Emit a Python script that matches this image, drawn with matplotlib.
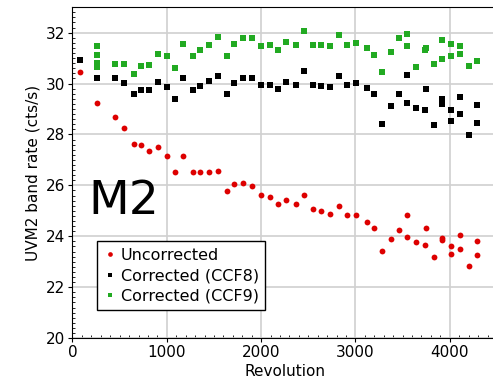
import matplotlib.pyplot as plt
from matplotlib.ticker import MultipleLocator

# Uncorrected rates (red)
rev_unc = [80, 256, 447, 550, 649, 726, 811, 910, 1002, 1090, 1172, 1278, 1352, 1448,
           1540, 1635, 1716, 1811, 1907, 2002, 2090, 2183, 2264, 2370, 2455, 2547, 2635,
           2731, 2826, 2914, 3003, 3120, 3194, 3278, 3374, 3466, 3547, 3547, 3643, 3738,
           3745, 3830, 3915, 3920, 4014, 4014, 4106, 4106, 4208, 4286, 4286]
rate_unc = [30.47, 29.25, 28.68, 28.24, 27.62, 27.58, 27.36, 27.51, 27.15, 26.51, 27.15,
            26.51, 26.54, 26.54, 26.57, 25.79, 26.05, 26.09, 25.98, 25.61, 25.54, 25.27,
            25.43, 25.26, 25.61, 25.07, 24.99, 24.88, 25.18, 24.82, 24.82, 24.58, 24.32,
            23.41, 23.89, 24.26, 24.84, 23.96, 23.78, 23.67, 24.32, 23.19, 23.93, 23.87,
            23.63, 23.29, 24.04, 23.48, 22.85, 23.82, 23.25]

# Corrected with CCF8 (black)
rev_ccf8 = rev_unc
rate_ccf8 = [30.94, 30.23, 30.20, 30.01, 29.57, 29.75, 29.73, 30.07, 29.86, 29.39, 30.23,
             29.73, 29.90, 30.09, 30.30, 29.57, 30.01, 30.23, 30.20, 29.93, 29.93, 29.79,
             30.05, 29.93, 30.48, 29.93, 29.90, 29.86, 30.30, 29.93, 30.01, 29.82, 29.57,
             28.43, 29.13, 29.57, 30.35, 29.25, 29.05, 28.98, 29.79, 28.39, 29.38, 29.19,
             28.95, 28.53, 29.47, 28.79, 27.98, 29.17, 28.45]

# Corrected with CCF9 (green)
rev_ccf9 = [256, 256, 256, 256, 447, 550, 649, 726, 811, 910, 1002, 1090, 1172, 1278,
            1352, 1448, 1540, 1635, 1716, 1811, 1907, 2002, 2090, 2183, 2264, 2370, 2455,
            2547, 2635, 2731, 2826, 2914, 3003, 3120, 3194, 3278, 3374, 3466, 3547, 3547,
            3643, 3738, 3745, 3830, 3915, 3920, 4014, 4014, 4106, 4106, 4208, 4286]
rate_ccf9 = [31.48, 31.12, 30.80, 30.65, 30.75, 30.75, 30.38, 30.68, 30.71, 31.16, 31.09,
             30.60, 31.56, 31.08, 31.30, 31.52, 31.82, 31.08, 31.56, 31.78, 31.78, 31.48,
             31.52, 31.33, 31.64, 31.50, 32.08, 31.50, 31.50, 31.46, 31.89, 31.50, 31.60,
             31.38, 31.13, 30.46, 31.24, 31.78, 31.93, 31.46, 30.64, 31.32, 31.40, 30.75,
             31.70, 30.98, 31.54, 31.08, 31.46, 31.16, 30.68, 30.90]

fig = plt.figure(figsize=(4.93, 3.79), dpi=100)
ax = fig.add_axes([0.147, 0.108, 0.861, 0.873])

ax.plot(rev_unc, rate_unc, 'o', color='#dd0000', ms=4.2, mew=0, label='Uncorrected', zorder=3)
ax.plot(rev_ccf8, rate_ccf8, 's', color='black', ms=4.2, mew=0, label='Corrected (CCF8)', zorder=3)
ax.plot(rev_ccf9, rate_ccf9, 's', color='#22aa22', ms=4.2, mew=0, label='Corrected (CCF9)', zorder=3)

ax.set_xlim(0, 4500)
ax.set_ylim(20, 33)
ax.xaxis.set_major_locator(MultipleLocator(1000))
ax.xaxis.set_minor_locator(MultipleLocator(100))
ax.yaxis.set_major_locator(MultipleLocator(2))
ax.yaxis.set_minor_locator(MultipleLocator(0.2))
ax.tick_params(which='major', direction='out', length=3, pad=2, labelsize=11)
ax.tick_params(which='minor', direction='in', length=2)
ax.grid(True, which='major', color='#d0d0d0', lw=1.2, zorder=0)
ax.set_axisbelow(True)

ax.set_xlabel('Revolution', fontsize=11, labelpad=3)
ax.set_ylabel('UVM2 band rate (cts/s)', fontsize=11, labelpad=4)

ax.text(170, 24.88, 'M2', fontsize=34, va='baseline', ha='left')

leg = ax.legend(loc='lower left', bbox_to_anchor=(0.057, 0.084), fontsize=11.5,
                fancybox=False, framealpha=1, edgecolor='black', borderaxespad=0,
                handletextpad=0.2, markerscale=0.8, handlelength=0.9, labelspacing=0.35,
                borderpad=0.4)
leg.get_frame().set_linewidth(1.0)

fig.savefig('out.png', dpi=100)
